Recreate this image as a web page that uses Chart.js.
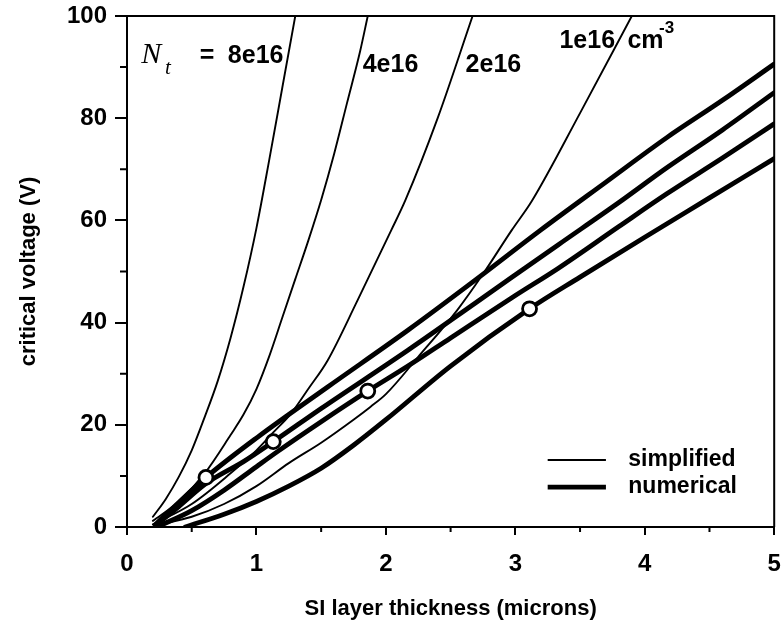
<!DOCTYPE html>
<html>
<head>
<meta charset="utf-8">
<script src="https://cdn.jsdelivr.net/npm/chart.js@4.4.0/dist/chart.umd.min.js"></script>
<style>
  html, body { margin: 0; padding: 0; background: #fff; }
</style>
</head>
<body>
<canvas id="graficoVoltaje" width="784" height="624"></canvas>
<script>
// simplified model (thin lines), one curve per trap density
const simp8e16X = [0.2, 0.3, 0.4, 0.5, 0.6, 0.7, 0.8, 0.9, 1.0, 1.1, 1.2, 1.3];
const simp8e16Y = [2, 5.5, 9.8, 15, 21.5, 28.5, 37, 47, 58.5, 72, 86, 100];
const simp4e16X = [0.2, 0.4, 0.6, 0.8, 0.9, 1.0, 1.1, 1.2, 1.3, 1.4, 1.5, 1.6, 1.7, 1.8, 1.86];
const simp4e16Y = [1.2, 5, 10.5, 18, 22, 27, 33.5, 41, 48.5, 56, 64, 73, 83, 93, 100];
const simp2e16X = [0.2, 0.5, 0.8, 1.0, 1.13, 1.27, 1.4, 1.55, 1.78, 2.04, 2.15, 2.4, 2.67];
const simp2e16Y = [0.5, 4.5, 10.5, 15, 18.5, 22.3, 27, 32.6, 44.3, 58, 63.9, 80, 100];
const simp1e16X = [0.22, 0.5, 0.75, 1.0, 1.25, 1.5, 1.75, 1.88, 2.0, 2.25, 2.55, 2.75, 2.97, 3.13, 3.5, 3.9];
const simp1e16Y = [0.3, 2, 4.5, 8, 12.5, 16.5, 21, 23.5, 26, 33.3, 42.4, 49.5, 58, 63.9, 81, 100];

// numerical results (thick lines)
const num8e16X = [0.22, 0.4, 0.61, 1.01, 1.55, 2.17, 2.7, 3.19, 3.7, 4.17, 4.6, 5];
const num8e16Y = [0.5, 4.8, 9.7, 17.6, 27.4, 38.5, 48.5, 58, 67.5, 76.2, 83.5, 90.6];
const num4e16X = [0.22, 0.4, 0.61, 0.9, 1.13, 1.5, 2.17, 2.7, 3.33, 3.8, 4.17, 4.6, 5];
const num4e16Y = [0.3, 4, 8.5, 12.8, 16.7, 23.2, 34.6, 44, 55.2, 63.5, 70.3, 77.7, 85];
const num2e16X = [0.25, 0.5, 0.75, 1.0, 1.165, 1.5, 1.86, 2.17, 2.5, 3.0, 3.33, 3.8, 4.17, 4.6, 5];
const num2e16Y = [0.2, 3.2, 7.2, 11.8, 14.8, 20.6, 26.6, 31.5, 37, 45.3, 50.6, 58.8, 65.2, 72.2, 78.9];
const num1e16X = [0.45, 0.75, 1.0, 1.25, 1.5, 1.75, 2.0, 2.5, 3.11, 3.5, 4.0, 4.5, 5];
const num1e16Y = [0, 2.5, 5, 8, 11.5, 16, 21, 31.5, 42.7, 48.9, 56.7, 64.4, 72.1];

// open circles on the numerical curves
const marcaX = [0.61, 1.13, 1.86, 3.11];
const marcaY = [9.7, 16.7, 26.6, 42.7];

const xTicks = [0, 1, 2, 3, 4, 5];
const yTicks = [0, 20, 40, 60, 80, 100];
const xMinor = [0.5, 1.5, 2.5, 3.5, 4.5];
const yMinor = [10, 30, 50, 70, 90];

const FUENTE = "'Liberation Sans', Arial, Helvetica, sans-serif";
const SERIF = "'Liberation Serif', 'Times New Roman', serif";

function puntos(xs, ys) {
    return xs.map(function (x, i) { return { x: x, y: ys[i] }; });
}

function curva(xs, ys, grosor) {
    return {
        data: puntos(xs, ys),
        borderColor: '#000',
        borderWidth: grosor,
        pointRadius: 0,
        fill: false,
        cubicInterpolationMode: 'monotone',
        borderCapStyle: 'round',
        borderJoinStyle: 'round'
    };
}

const datasets = [
    {
        data: puntos(marcaX, marcaY),
        showLine: false,
        pointRadius: 7,
        pointBorderWidth: 2.8,
        pointBackgroundColor: '#fff',
        pointBorderColor: '#000'
    },
    curva(num8e16X, num8e16Y, 4.8),
    curva(num4e16X, num4e16Y, 4.8),
    curva(num2e16X, num2e16Y, 4.8),
    curva(num1e16X, num1e16Y, 4.8),
    curva(simp8e16X, simp8e16Y, 1.9),
    curva(simp4e16X, simp4e16Y, 1.9),
    curva(simp2e16X, simp2e16Y, 1.9),
    curva(simp1e16X, simp1e16Y, 1.9)
];

// frame, minor ticks, labels and the little legend
const extras = {
    id: 'extras',
    afterDraw: function (chart) {
        const c = chart.ctx;
        const a = chart.chartArea;
        const sx = chart.scales.x;
        const sy = chart.scales.y;
        c.save();
        c.strokeStyle = '#000';
        c.lineWidth = 2;
        c.beginPath();
        c.moveTo(a.left, a.top);
        c.lineTo(a.right, a.top);
        c.lineTo(a.right, a.bottom);
        c.stroke();

        c.beginPath();
        xMinor.forEach(function (v) {
            const p = sx.getPixelForValue(v);
            c.moveTo(p, a.bottom);
            c.lineTo(p, a.bottom + 5);
        });
        yMinor.forEach(function (v) {
            const p = sy.getPixelForValue(v);
            c.moveTo(a.left - 7, p);
            c.lineTo(a.left, p);
        });
        c.stroke();

        c.fillStyle = '#000';
        c.textBaseline = 'alphabetic';
        c.textAlign = 'left';
        function texto(t, x, y, font) {
            c.font = font;
            c.fillText(t, sx.getPixelForValue(x), sy.getPixelForValue(y));
        }
        texto('N', 0.11, 90.8, 'italic 30px ' + SERIF);
        texto('t', 0.293, 88.6, 'italic 21px ' + SERIF);
        texto('=', 0.563, 90.8, 'bold 25px ' + FUENTE);
        texto('8e16', 0.779, 90.8, 'bold 25px ' + FUENTE);
        texto('4e16', 1.821, 89.0, 'bold 25px ' + FUENTE);
        texto('2e16', 2.616, 89.0, 'bold 25px ' + FUENTE);
        texto('1e16', 3.341, 93.7, 'bold 25px ' + FUENTE);
        texto('cm', 3.866, 93.7, 'bold 25px ' + FUENTE);
        texto('-3', 4.11, 96.7, 'bold 17px ' + FUENTE);

        // legend
        const lx1 = sx.getPixelForValue(3.25);
        const lx2 = sx.getPixelForValue(3.70);
        const ly1 = sy.getPixelForValue(13.1);
        const ly2 = sy.getPixelForValue(7.8);
        c.lineCap = 'butt';
        c.lineWidth = 1.9;
        c.beginPath(); c.moveTo(lx1, ly1); c.lineTo(lx2, ly1); c.stroke();
        c.lineWidth = 4.8;
        c.beginPath(); c.moveTo(lx1, ly2); c.lineTo(lx2, ly2); c.stroke();
        c.font = 'bold 23px ' + FUENTE;
        c.textBaseline = 'middle';
        c.fillText('simplified', sx.getPixelForValue(3.873), ly1);
        c.fillText('numerical', sx.getPixelForValue(3.873), ly2);
        c.restore();
    }
};

new Chart(document.getElementById('graficoVoltaje'), {
    type: 'line',
    data: { datasets: datasets },
    plugins: [extras],
    options: {
        responsive: false,
        animation: false,
        layout: { padding: { top: 16, right: 1, left: 0, bottom: 0 } },
        plugins: {
            legend: { display: false },
            tooltip: { enabled: false }
        },
        scales: {
            x: {
                type: 'linear',
                min: 0,
                max: 5,
                afterBuildTicks: function (s) { s.ticks = xTicks.map(function (v) { return { value: v }; }); },
                afterFit: function (s) {
                    s.height = 97;
                    s.paddingLeft = 0;
                    s.paddingRight = 0;
                },
                ticks: {
                    color: '#000',
                    padding: 15,
                    maxRotation: 0,
                    font: { family: FUENTE, size: 24, weight: 'bold' }
                },
                grid: { drawOnChartArea: false, drawTicks: true, tickLength: 8, color: '#000', lineWidth: 2 },
                border: { display: true, color: '#000', width: 2 },
                title: {
                    display: true,
                    text: 'SI layer thickness (microns)',
                    color: '#000',
                    padding: { top: 0, bottom: 2 },
                    font: { family: FUENTE, size: 22, weight: 'bold' }
                }
            },
            y: {
                type: 'linear',
                min: 0,
                max: 100,
                afterBuildTicks: function (s) { s.ticks = yTicks.map(function (v) { return { value: v }; }); },
                afterFit: function (s) {
                    s.width = 127;
                    s.paddingTop = 0;
                    s.paddingBottom = 0;
                },
                ticks: {
                    color: '#000',
                    padding: 8,
                    font: { family: FUENTE, size: 24, weight: 'bold' }
                },
                grid: { drawOnChartArea: false, drawTicks: true, tickLength: 12, color: '#000', lineWidth: 2 },
                border: { display: true, color: '#000', width: 2 },
                title: {
                    display: true,
                    text: 'critical voltage (V)',
                    color: '#000',
                    padding: { top: 16, bottom: 0 },
                    font: { family: FUENTE, size: 22, weight: 'bold' }
                }
            }
        }
    }
});
</script>
</body>
</html>
